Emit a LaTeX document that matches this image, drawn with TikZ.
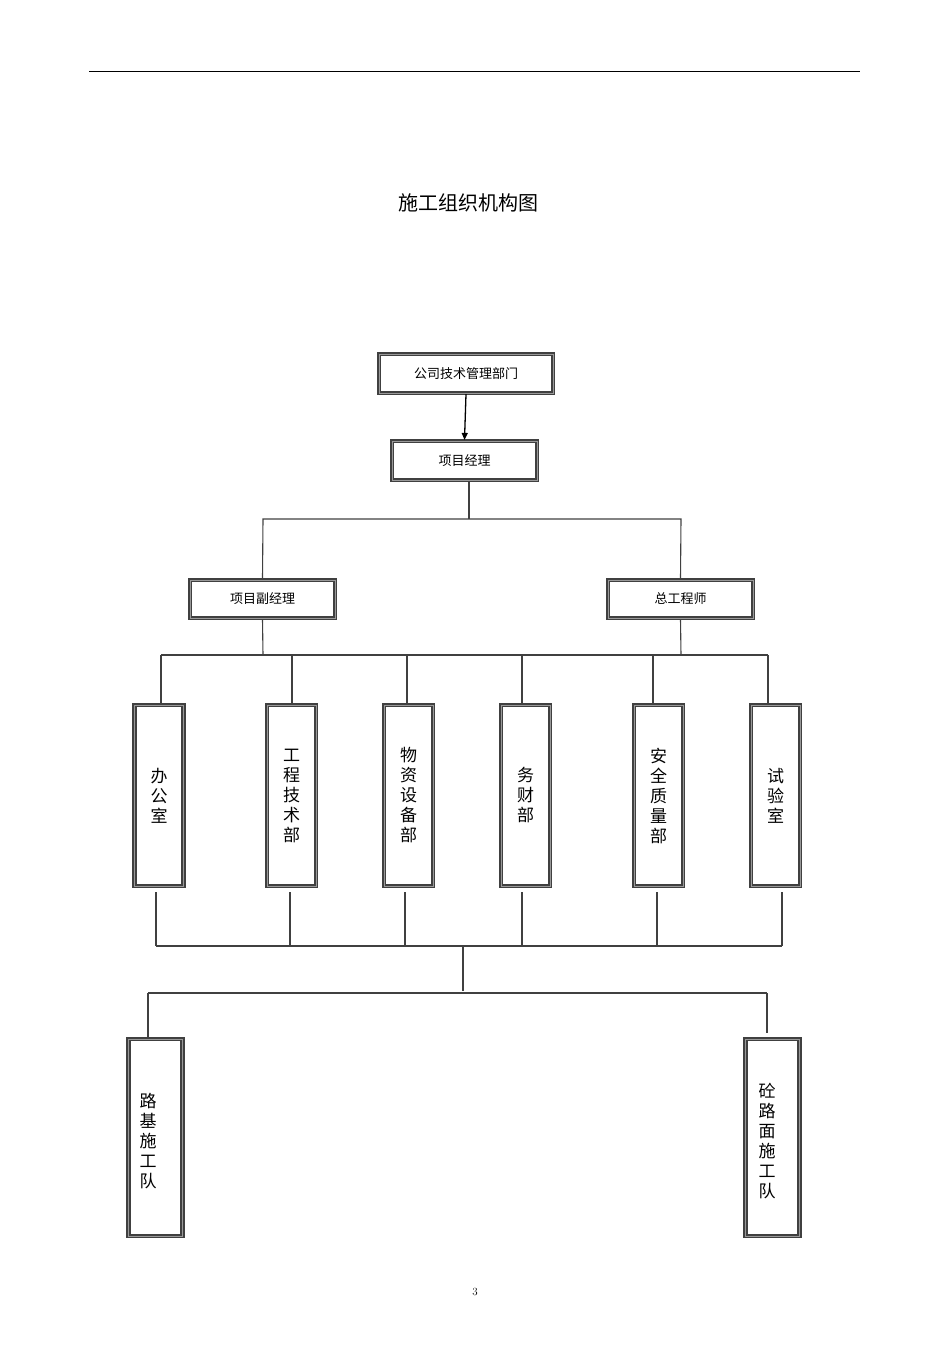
\documentclass[tikz,border=0pt]{standalone}
\usepackage{fontspec}
\newfontfamily\cjk{Noto Sans CJK SC}
\usetikzlibrary{arrows.meta}
\begin{document}
\begin{tikzpicture}[x=1pt,y=-1pt,
 box/.style={draw=black!75,line width=2.2pt,double=white,double distance=0pt,inner sep=0pt,
   postaction={draw=gray!80,line width=0.6pt},font=\cjk\fontsize{13}{15}\selectfont},
 hbox/.style={box,minimum height=39pt},
 vbox/.style={box,minimum width=49pt,align=center,font=\cjk\fontsize{17}{20}\selectfont},
 ln/.style={draw=black!75,line width=1.1pt}]
\useasboundingbox (0,0) rectangle (950,1345);
\draw[line width=0.8pt] (89,71) -- (860,71);
\node[font=\cjk\fontsize{20}{24}\selectfont] (title) at (468,203) {施工组织机构图};
\node[hbox,minimum width=174pt] (A) at (466,373.5) {公司技术管理部门};
\node[hbox,minimum width=145pt] (B) at (464.5,460.5) {项目经理};
\draw[ln,-{Triangle[length=7pt,width=6pt]},black,line width=1.3pt] (A.south) -- (B.north);
\node[hbox,minimum width=145pt,minimum height=38pt] (C) at (262.5,599) {项目副经理};
\node[hbox,minimum width=145pt,minimum height=38pt] (D) at (680.5,599) {总工程师};
\coordinate (b1) at (469,519);
\draw[ln] (B.south -| b1) -- (b1);
\draw[ln] (C.north) -- (263,519) -- (681,519) -- (D.north);
\draw[ln] (C.south) -- (263,655);
\draw[ln] (D.south) -- (681,655);
\draw[ln] (161,655) -- (768,655);
\foreach \n/\cx/\txt in {o1/159/{办\\公\\室},o2/291.5/{工\\程\\技\\术\\部},o3/408.5/{物\\资\\设\\备\\部},o4/525.5/{务\\财\\部},o5/658.5/{安\\全\\质\\量\\部},o6/775.5/{试\\验\\室}}{
 \node[vbox,minimum height=181pt] (\n) at (\cx,795.5) {\txt};
}
\foreach \n/\x in {o1/161,o2/292,o3/407,o4/522,o5/653,o6/768}{
 \draw[ln] (\x,655) -- (\n.north -| \x,0);
}
\foreach \x in {156,290,405,522,657,782}{\draw[ln] (\x,892) -- (\x,946);}
\draw[ln] (156,946) -- (782,946);
\draw[ln] (463,946) -- (463,991);
\draw[ln] (148,993) -- (767,993);
\node[vbox,minimum width=54pt,minimum height=197pt,anchor=north] (E) at (155.5,1038) {};
\node[font=\cjk\fontsize{17}{20}\selectfont,align=center,anchor=north] (Et) at (148,1090) {路\\基\\施\\工\\队};
\node[vbox,minimum width=54pt,minimum height=197pt,anchor=north] (F) at (772.5,1038) {};
\node[font=\cjk\fontsize{17}{20}\selectfont,align=center,anchor=north] (Ft) at (767,1080) {砼\\路\\面\\施\\工\\队};
\draw[ln] (148,993) -- (E.north -| 148,0);
\draw[ln] (767,993) -- (767,1033);
\node[font=\fontsize{11}{13}\selectfont] (pg) at (475,1292) {3};
\end{tikzpicture}
\end{document}
